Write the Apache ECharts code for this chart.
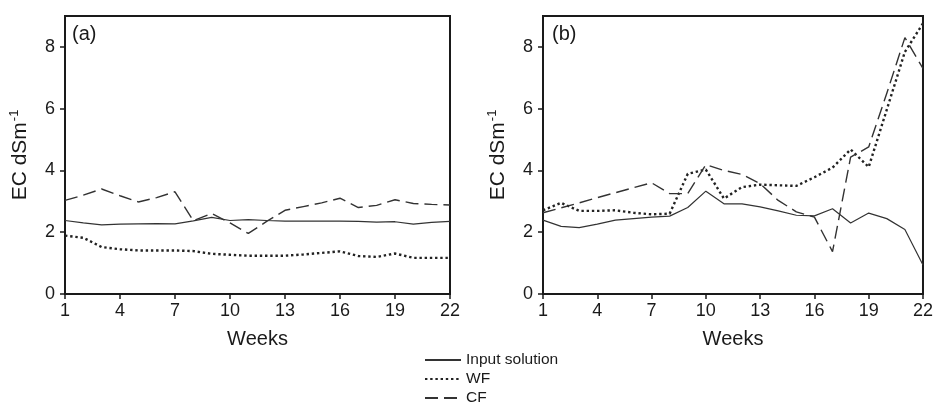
<!DOCTYPE html>
<html>
<head>
<meta charset="utf-8">
<script src="https://cdn.jsdelivr.net/npm/echarts@6/dist/echarts.min.js"></script>
<style>
html,body{margin:0;padding:0;background:#fff;}
#c{width:936px;height:402px;}
</style>
</head>
<body>
<div id="c"></div>
<script>
const weeks = ['1','2','3','4','5','6','7','8','9','10','11','12','13','14','15','16','17','18','19','20','21','22'];
const yTicks = [0, 2, 4, 6, 8];

// Panel (a)
const aInput = [2.38, 2.30, 2.24, 2.26, 2.27, 2.28, 2.27, 2.37, 2.48, 2.38, 2.41, 2.38, 2.36, 2.36, 2.36, 2.36, 2.35, 2.33, 2.34, 2.26, 2.32, 2.35];
const aWF    = [1.89, 1.82, 1.52, 1.45, 1.41, 1.41, 1.41, 1.39, 1.30, 1.27, 1.24, 1.24, 1.24, 1.28, 1.33, 1.38, 1.23, 1.20, 1.31, 1.17, 1.17, 1.17];
const aCF    = [3.03, 3.20, 3.40, 3.18, 2.98, 3.12, 3.31, 2.37, 2.61, 2.30, 1.96, 2.35, 2.71, 2.83, 2.95, 3.10, 2.80, 2.87, 3.05, 2.93, 2.90, 2.88];

// Panel (b)
const bInput = [2.39, 2.19, 2.15, 2.26, 2.39, 2.44, 2.49, 2.52, 2.80, 3.33, 2.92, 2.92, 2.82, 2.69, 2.55, 2.53, 2.76, 2.30, 2.62, 2.44, 2.09, 0.94];
const bWF    = [2.71, 2.95, 2.69, 2.69, 2.71, 2.63, 2.58, 2.60, 3.89, 4.03, 3.09, 3.46, 3.54, 3.52, 3.50, 3.78, 4.09, 4.68, 4.11, 5.97, 7.84, 8.76];
const bCF    = [2.63, 2.79, 2.95, 3.12, 3.28, 3.44, 3.60, 3.25, 3.25, 4.19, 4.00, 3.87, 3.57, 3.03, 2.66, 2.49, 1.37, 4.43, 4.76, 6.50, 8.30, 7.30];

const seriesNames = ['Input solution', 'WF', 'CF'];
const panelLabels = ['(a)', '(b)'];
const xName = 'Weeks';

const FONT = 'Liberation Sans, Arial, sans-serif';
const INK = '#1a1a1a';

const lineStyles = [
  { color: '#333', width: 1.2, type: 'solid' },
  { color: '#222', width: 2.4, type: [2.4, 2.8], cap: 'butt' },
  { color: '#333', width: 1.4, type: [13, 6] }
];

function xAxisFor(gi) {
  return {
    type: 'category', gridIndex: gi, data: weeks, boundaryGap: false,
    name: xName, nameLocation: 'middle', nameGap: 35,
    nameTextStyle: { fontFamily: FONT, fontSize: 20, color: INK },
    axisLine: { show: true, lineStyle: { color: INK, width: 2 } },
    axisTick: { show: true, inside: false, length: 5, interval: 2, lineStyle: { color: INK, width: 1.5 } },
    axisLabel: { interval: 2, margin: 8, fontFamily: FONT, fontSize: 18, color: INK },
    splitLine: { show: false }
  };
}
function yAxisFor(gi) {
  return {
    type: 'value', gridIndex: gi, min: 0, max: 9, interval: 2,
    name: '{a|EC dSm}{b|-1}', nameLocation: 'middle', nameGap: 32, nameRotate: 90,
    nameTextStyle: {
      fontFamily: FONT, color: INK,
      rich: {
        a: { fontFamily: FONT, fontSize: 21, color: INK, lineHeight: 26 },
        b: { fontFamily: FONT, fontSize: 13, color: INK, lineHeight: 26, padding: [0, 0, 11, 1] }
      }
    },
    axisLine: { show: true, lineStyle: { color: INK, width: 2 } },
    axisTick: { show: true, inside: false, length: 5, customValues: yTicks, lineStyle: { color: INK, width: 1.5 } },
    axisLabel: { margin: 10, fontFamily: FONT, fontSize: 18, color: INK, customValues: yTicks },
    splitLine: { show: false }
  };
}
function mk(name, data, gi, idx) {
  return {
    name: name, type: 'line', xAxisIndex: gi, yAxisIndex: gi, data: data,
    symbol: 'none', showSymbol: false, smooth: false, silent: true, animation: false,
    lineStyle: lineStyles[idx], itemStyle: { color: lineStyles[idx].color }
  };
}

const chart = echarts.init(document.getElementById('c'), null, { renderer: 'canvas' });
chart.setOption({
  animation: false,
  backgroundColor: '#fff',
  grid: [
    { left: 65, right: 486, top: 16, bottom: 108, show: true, borderColor: INK, borderWidth: 2, backgroundColor: 'transparent', containLabel: false },
    { left: 543, right: 9, top: 16, bottom: 108, show: true, borderColor: INK, borderWidth: 2, backgroundColor: 'transparent', containLabel: false }
  ],
  title: [
    { text: panelLabels[0], left: 72, top: 24, padding: 0, textStyle: { fontFamily: FONT, fontSize: 20, fontWeight: 'normal', color: INK } },
    { text: panelLabels[1], left: 552, top: 24, padding: 0, textStyle: { fontFamily: FONT, fontSize: 20, fontWeight: 'normal', color: INK } }
  ],
  legend: {
    orient: 'vertical', left: 424, top: 352, width: 200, height: 80, padding: 0,
    itemWidth: 36, itemHeight: 12, itemGap: 3,
    data: seriesNames,
    itemStyle: { opacity: 0, borderWidth: 0 },
    textStyle: { fontFamily: FONT, fontSize: 15.5, color: INK },
    selectedMode: false
  },
  xAxis: [xAxisFor(0), xAxisFor(1)],
  yAxis: [yAxisFor(0), yAxisFor(1)],
  series: [
    mk(seriesNames[0], aInput, 0, 0),
    mk(seriesNames[1], aWF, 0, 1),
    mk(seriesNames[2], aCF, 0, 2),
    mk(seriesNames[0], bInput, 1, 0),
    mk(seriesNames[1], bWF, 1, 1),
    mk(seriesNames[2], bCF, 1, 2)
  ]
});
</script>
</body>
</html>
